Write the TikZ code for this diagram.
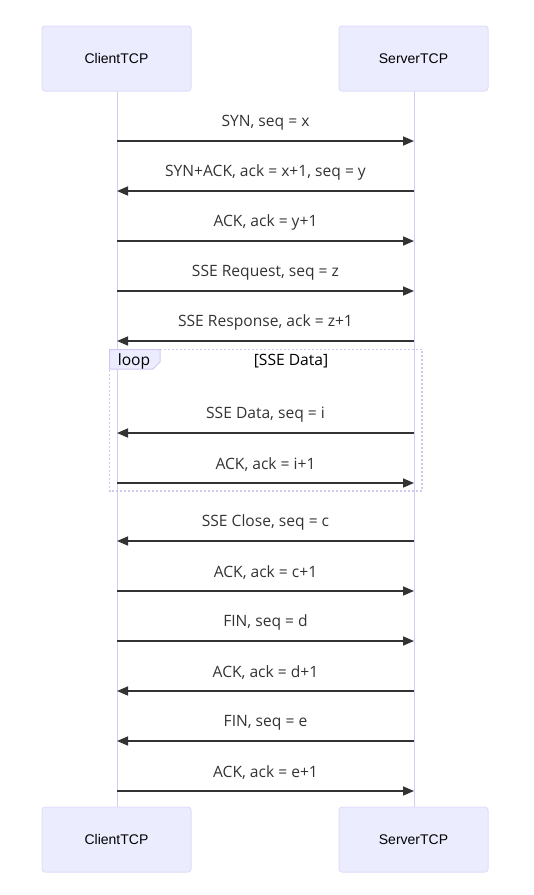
\documentclass[tikz,border=0pt]{standalone}
\usepackage{fontspec}
\setmainfont{Open Sans}
\newfontfamily\actorfont{Liberation Sans}
\usetikzlibrary{arrows.meta}
\definecolor{actfill}{HTML}{ECECFF}
\definecolor{actdraw}{HTML}{E0DDFB}
\definecolor{lifel}{HTML}{D4CCF2}
\definecolor{msgcol}{HTML}{333333}
\definecolor{loopdraw}{HTML}{D0C8F0}
\tikzset{
  actor/.style={draw=actdraw, fill=actfill, line width=1pt, rounded corners=3pt,
    minimum width=149pt, minimum height=65pt, inner sep=0pt,
    font=\actorfont\fontsize{14}{16}\selectfont, text=black},
  lifeline/.style={draw=lifel, line width=1pt},
  msg/.style={draw=msgcol, line width=1.6pt, -{Triangle[length=11pt,width=9pt]}},
  msglabel/.style={font=\fontsize{15.6}{18}\selectfont, text=msgcol, inner sep=0pt},
  loopbox/.style={draw=loopdraw, line width=1.2pt, dash pattern=on 2pt off 2pt},
  looptag/.style={draw=loopdraw, fill=actfill, line width=1pt},
}
\begin{document}
\begin{tikzpicture}[x=1pt,y=-1pt]
\useasboundingbox (0,0) rectangle (534,895);
% lifelines
\coordinate (cl0) at (117,91);
\coordinate (cl1) at (117,807);
\coordinate (sl0) at (414,91);
\coordinate (sl1) at (414,807);
\draw[lifeline] (cl0) -- (cl1);
\draw[lifeline] (sl0) -- (sl1);
% loop box
\coordinate (lp0) at (109.5,349.5);
\coordinate (lp1) at (422,491);
\draw[loopbox] (lp0) rectangle (lp1);
\draw[looptag] (109.5,349.5) -- (160,349.5) -- (160,362) -- (153,369) -- (109.5,369) -- cycle;
\node[msglabel, text=black] (looplbl) at (134,361) {loop};
\node[msglabel, text=black] (loopcond) at (291,361) {[SSE Data]};
% actors
\node[actor] (ct) at (116.5,58.5) {ClientTCP};
\node[actor] (st) at (413.5,58.5) {ServerTCP};
\node[actor] (cb) at (116.5,839.5) {ClientTCP};
\node[actor] (sb) at (413.5,839.5) {ServerTCP};
% messages
\foreach \i/\y/\dir/\txt in {
  1/141/r/{SYN, seq = x},
  2/191/l/{SYN+ACK, ack = x+1, seq = y},
  3/241/r/{ACK, ack = y+1},
  4/291/r/{SSE Request, seq = z},
  5/341/l/{SSE Response, ack = z+1},
  6/433/l/{SSE Data, seq = i},
  7/483/r/{ACK, ack = i+1},
  8/541/l/{SSE Close, seq = c},
  9/591/r/{ACK, ack = c+1},
  10/641/r/{FIN, seq = d},
  11/691/l/{ACK, ack = d+1},
  12/741/l/{FIN, seq = e},
  13/791/r/{ACK, ack = e+1}}{
  \coordinate (c\i) at (117,\y);
  \coordinate (s\i) at (414,\y);
  \node[msglabel] (t\i) at (265.5,\y-18.5) {\txt};
  \if r\dir
    \draw[msg] (c\i) -- (s\i);
  \else
    \draw[msg] (s\i) -- (c\i);
  \fi
}
\end{tikzpicture}
\end{document}
